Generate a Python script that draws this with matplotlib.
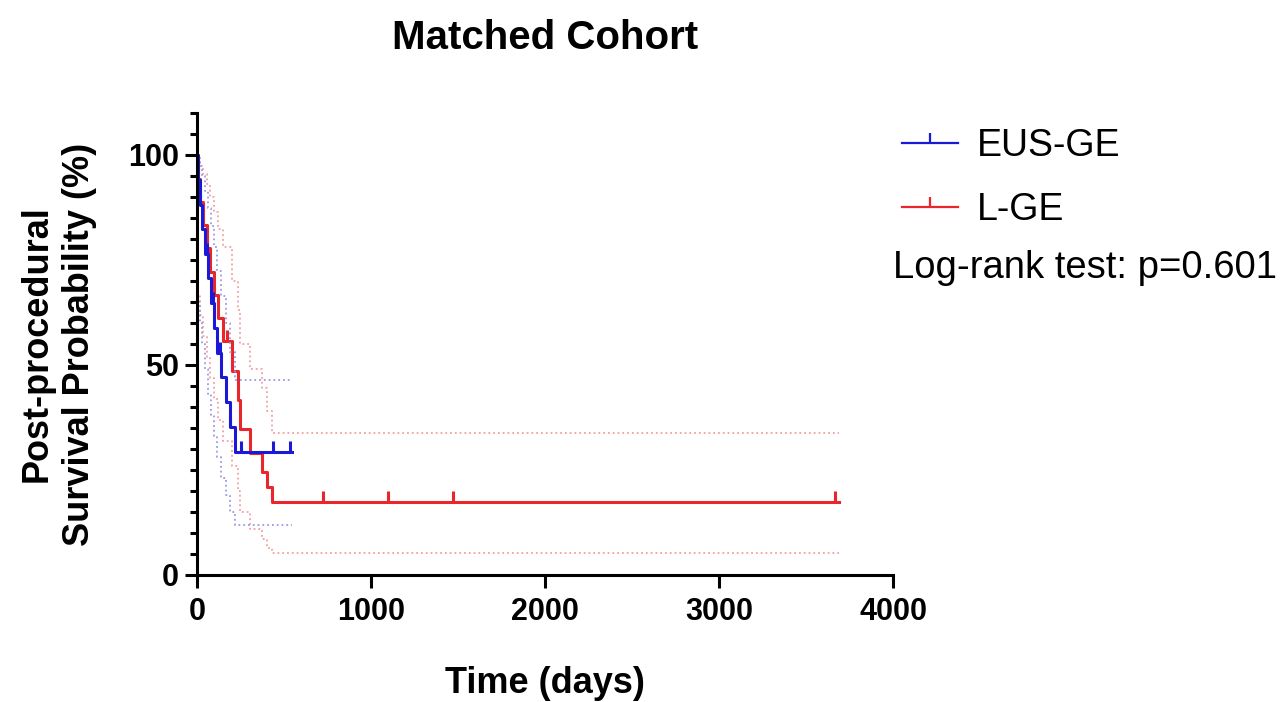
import numpy as np
import matplotlib.pyplot as plt
from matplotlib.lines import Line2D
from matplotlib.ticker import MultipleLocator

plt.rcParams['font.family'] = ['Liberation Sans', 'DejaVu Sans']

# Kaplan-Meier steps (days, survival %)
eus_times = [5, 15, 30, 45, 62, 80, 95, 115, 140, 165, 190, 220]
eus_surv = [94.1, 88.2, 82.4, 76.5, 70.6, 64.7, 58.8, 52.9, 47.1, 41.2, 35.3, 29.4]
eus_hi = [99.2, 97.5, 95.0, 91.5, 87.5, 83.0, 78.0, 72.5, 66.5, 60.0, 53.0, 46.5]
eus_lo = [65.0, 60.0, 55.0, 49.0, 43.0, 38.0, 33.0, 28.0, 23.0, 19.0, 15.0, 12.0]
eus_end = 546
eus_censor = [57, 92, 132, 190, 250, 437, 534]

lge_times = [8, 20, 35, 55, 75, 95, 120, 150, 200, 236, 247, 305, 374, 400, 432]
lge_surv = [94.4, 88.9, 83.3, 77.8, 72.2, 66.7, 61.1, 55.6, 48.6, 41.7, 34.7, 29.0, 24.5, 21.0, 17.5]
lge_hi = [99.2, 97.5, 95.5, 93.0, 90.0, 86.5, 82.5, 78.0, 70.0, 63.0, 55.0, 49.0, 44.5, 39.0, 33.8]
lge_lo = [67.0, 62.0, 57.0, 52.0, 47.0, 42.0, 37.0, 32.0, 26.0, 20.0, 15.0, 11.0, 8.5, 6.5, 5.2]
lge_end = 3690
lge_censor = [172, 724, 1098, 1471, 3667]

blue = '#1a1ad6'
red = '#e8262b'
blue_ci = '#9a9ae6'
red_ci = '#f2a0a0'


def steps(times, vals, end):
    t = np.array([0] + times + [end], dtype=float)
    v = np.array([100] + vals + [vals[-1]], dtype=float)
    return t, v


fig = plt.figure(figsize=(12.85, 7.02), dpi=100)
ax = fig.add_axes([197 / 1285, 127 / 702, 696 / 1285, 462 / 702])

for times, surv, hi, lo, end, cens, col, cicol in [
        (lge_times, lge_surv, lge_hi, lge_lo, lge_end, lge_censor, red, red_ci),
        (eus_times, eus_surv, eus_hi, eus_lo, eus_end, eus_censor, blue, blue_ci)]:
    t, v = steps(times, hi, end)
    ax.step(t, v, where='post', color=cicol, lw=1.3, ls=':', clip_on=False)
    t, v = steps(times, lo, end)
    ax.step(t, v, where='post', color=cicol, lw=1.3, ls=':', clip_on=False)
    t, v = steps(times, surv, end)
    ax.step(t, v, where='post', color=col, lw=2.2, clip_on=False)
    cv = v[np.searchsorted(t, cens, side='right') - 1]
    ax.plot(cens, cv, ls='none', marker=2, ms=8, mew=2.2, color=col, clip_on=False)

ax.set_xlim(0, 4000)
ax.set_ylim(0, 110)
ax.set_xticks([0, 1000, 2000, 3000, 4000])
ax.set_yticks([0, 50, 100])
ax.yaxis.set_minor_locator(MultipleLocator(5))
for s in ['top', 'right']:
    ax.spines[s].set_visible(False)
for s in ['left', 'bottom']:
    ax.spines[s].set_linewidth(2.2)
ax.tick_params(which='major', length=9, width=2.2, labelsize=22, pad=4)
ax.tick_params(axis='x', which='major', pad=7)
ax.tick_params(which='minor', length=5, width=2.2)
for lab in ax.get_xticklabels() + ax.get_yticklabels():
    lab.set_fontweight('bold')

ax.set_xlabel('Time (days)', fontsize=26, fontweight='bold', labelpad=28)
ax.set_ylabel('Post-procedural\nSurvival Probability (%)', fontsize=26,
              fontweight='bold', labelpad=22, linespacing=1.3)
fig.text(545 / 1285, 1 - 38 / 702, 'Matched Cohort', fontsize=29,
         fontweight='bold', ha='center', va='center')

handles = [Line2D([], [], color=blue, lw=1.6, marker=2, ms=7, mew=1.6),
           Line2D([], [], color=red, lw=1.6, marker=2, ms=7, mew=1.6)]
fig.legend(handles, ['EUS-GE', 'L-GE'], loc='upper left',
           bbox_to_anchor=(902 / 1285, 1 - 128 / 702), frameon=False,
           fontsize=27, handlelength=1.5, handletextpad=0.5,
           labelspacing=0.75, borderpad=0, borderaxespad=0, numpoints=1)
fig.text(893 / 1285, 1 - 268 / 702, 'Log-rank test: p=0.601', fontsize=27.5,
         ha='left', va='center')

fig.savefig('out.png', dpi=100)
